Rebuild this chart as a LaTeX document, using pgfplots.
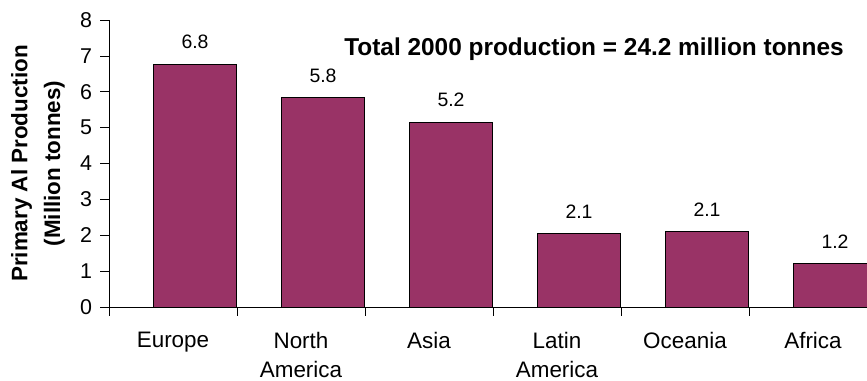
\documentclass[border=0pt]{standalone}
\usepackage{pgfplots}
\pgfplotsset{compat=1.18}
\usepackage{fontspec}
\setmainfont{Liberation Sans}
\definecolor{barc}{HTML}{993366}
\begin{document}
\begin{tikzpicture}
\path[use as bounding box] (-109bp,-74bp) rectangle (758bp,307bp);
\begin{axis}[
  at={(0,0)}, anchor=south west,
  scale only axis, width=758bp, height=287bp,
  xmin=-0.5, xmax=5.422, ymin=0, ymax=8,
  axis x line=bottom, axis y line=left,
  axis line style={-, black, line width=0.7pt},
  tick align=outside,
  major tick length=8.5bp,
  tick style={black, line width=0.7pt},
  /pgf/number format/assume math mode=true,
  ytick={0,1,...,8},
  yticklabel style={font=\fontsize{21.5}{25}\selectfont, xshift=-5bp},
  xtick={-0.5,0.5,...,4.5},
  xticklabels={},
  extra x ticks={0,1,2,3,4,5},
  extra x tick labels={Europe, North\\America, Asia, Latin\\America, Oceania, Africa},
  extra x tick style={major tick length=0pt, xticklabel style={align=center, font=\fontsize{22.5}{29.5}\selectfont, yshift=-21.5bp}},
  ylabel={Primary Al Production\\(Million tonnes)},
  ylabel style={align=center, font=\bfseries\fontsize{22.5}{33}\selectfont, at={(axis description cs:-0.0937,0.5)}, anchor=center},
  clip=true,
]
\addplot[ybar, bar width=0.656, fill=barc, draw=black, line width=1pt,
  nodes near coords, point meta=explicit symbolic,
  every node near coord/.append style={font=\fontsize{19.5}{24}\selectfont, black, yshift=11.5bp}]
  coordinates {(0.172,6.77) [6.8] (1.172,5.83) [5.8] (2.172,5.15) [5.2] (3.172,2.05) [2.1] (4.172,2.1) [2.1] (5.172,1.2) [1.2]};
\node[anchor=base, font=\bfseries\fontsize{24.5}{29}\selectfont] at (axis cs:3.289,7.02) {Total 2000 production = 24.2 million tonnes};
\end{axis}
\end{tikzpicture}
\end{document}
